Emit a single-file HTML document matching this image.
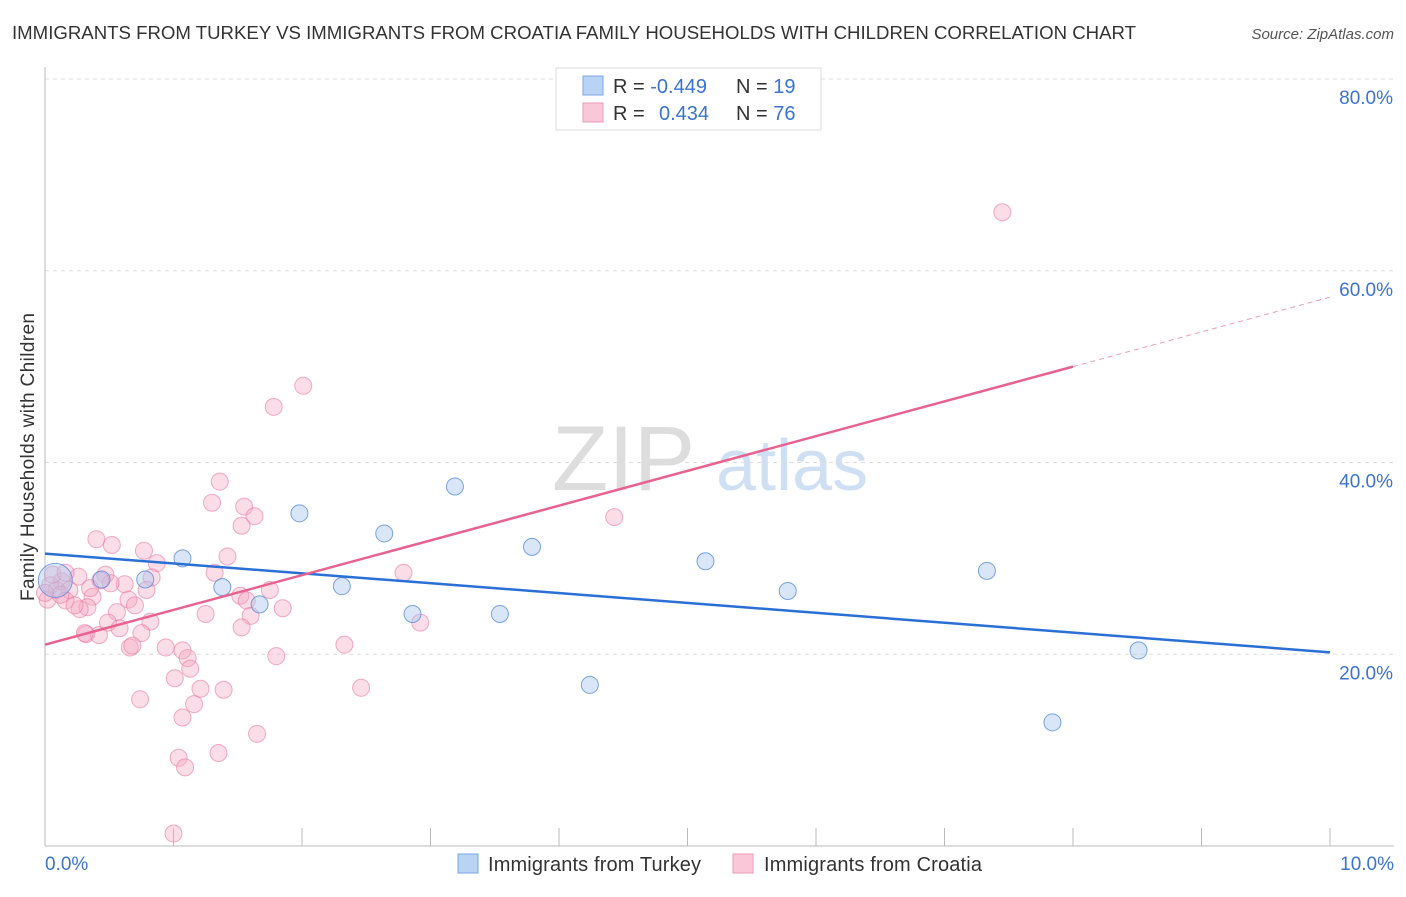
<!DOCTYPE html>
<html><head><meta charset="utf-8"><style>
body{margin:0;background:#fff;font-family:"Liberation Sans",sans-serif;}
svg text{font-family:"Liberation Sans",sans-serif;}
</style></head><body>
<svg id="chart" width="1406" height="892">
<text x="12" y="39" font-size="18" fill="#333" textLength="1124" lengthAdjust="spacingAndGlyphs">IMMIGRANTS FROM TURKEY VS IMMIGRANTS FROM CROATIA FAMILY HOUSEHOLDS WITH CHILDREN CORRELATION CHART</text>
<text x="1394" y="39" font-size="15" fill="#555" font-style="italic" text-anchor="end">Source: ZipAtlas.com</text>
<text x="34" y="457" font-size="19" fill="#333" text-anchor="middle" textLength="288" transform="rotate(-90 34 457)">Family Households with Children</text>
<g><text x="552" y="490" font-size="92" fill="#ddd" font-family="Liberation Serif">ZIP</text><text x="716" y="490" font-size="72" fill="#cfe0f5">atlas</text></g>
<g id="grid"></g><g id="axes"></g><g id="marks"></g>
<g>
<rect x="556" y="68" width="265" height="62" fill="#fff" stroke="#ddd"/>
<rect x="583" y="76" width="20" height="19" fill="#b9d3f5" stroke="#7aa7e6"/>
<rect x="583" y="103" width="20" height="19" fill="#f9c8d8" stroke="#ee97b5"/>
<text x="613" y="93" font-size="20" fill="#333">R = <tspan fill="#3b73d1">-0.449</tspan></text>
<text x="736" y="93" font-size="20" fill="#333">N = <tspan fill="#3b73d1">19</tspan></text>
<text x="613" y="120" font-size="20" fill="#333">R = <tspan fill="#3b73d1" x="659">0.434</tspan></text>
<text x="736" y="120" font-size="20" fill="#333">N = <tspan fill="#3b73d1">76</tspan></text>
</g>
<g>
<rect x="458" y="854" width="20" height="19" fill="#b9d3f5" stroke="#7aa7e6"/>
<text x="488" y="871" font-size="20" fill="#333" textLength="213">Immigrants from Turkey</text>
<rect x="733" y="854" width="20" height="19" fill="#f9c8d8" stroke="#ee97b5"/>
<text x="764" y="871" font-size="20" fill="#333" textLength="218">Immigrants from Croatia</text>
</g>
</svg>
<script>
const yTicks=[20,40,60,80];
const yTickLabels=["20.0%","40.0%","60.0%","80.0%"];
const xTickLabels=["0.0%","10.0%"];
const turkeyX=[0.08,0.44,0.78,1.07,1.38,1.67,1.98,2.31,2.64,2.86,3.19,3.54,3.79,4.24,5.14,5.78,7.33,8.51,7.84];
const turkeyY=[27.7,27.8,27.8,30.0,27.0,25.2,34.7,27.1,32.6,24.2,37.5,24.2,31.2,16.8,29.7,26.6,28.7,20.4,12.9];
const croatiaX=[7.45,2.01,1.78,1.36,1.30,1.55,1.63,1.53,4.43,0.40,0.52,0.77,1.42,0.87,2.79,1.32,0.47,0.26,0.83,0.62,0.13,0.09,0.19,0.79,0.37,0.65,1.52,1.57,1.85,0.70,0.33,0.27,0.56,1.25,1.60,2.92,0.82,0.49,1.53,0.58,0.75,0.32,0.42,0.31,2.33,0.66,0.68,0.94,1.07,1.11,1.13,1.80,1.01,1.21,1.39,2.46,1.16,0.74,1.07,1.65,1.35,1.04,1.09,1.00,0.04,0.02,0.16,0.12,0.23,0.51,0.43,0.06,0.16,0.0,0.35,1.75];
const croatiaY=[66.1,48.0,45.8,38.0,35.8,35.4,34.4,33.4,34.3,32.0,31.4,30.8,30.2,29.5,28.5,28.5,28.3,28.1,28.0,27.3,27.6,26.7,26.7,26.7,26.0,25.7,26.1,25.6,24.8,25.1,24.9,24.7,24.4,24.2,24.0,23.3,23.4,23.3,22.8,22.7,22.2,22.1,22.0,22.2,21.0,20.7,20.9,20.7,20.4,19.6,18.5,19.8,17.5,16.4,16.3,16.5,14.8,15.3,13.4,11.7,9.7,9.2,8.2,1.3,27.2,25.7,25.6,26.2,25.1,27.4,27.7,28.3,28.5,26.4,26.9,26.7];
const turkeyTrend=[30.5,20.2];
const croatiaTrend=[21.0,57.25];
const croatiaSolidEnd=8.0;

const NS="http://www.w3.org/2000/svg";
const X=v=>45+v*128.5, Y=v=>846-v*9.5875;
function mk(p,t,a){const e=document.createElementNS(NS,t);for(const k in a)e.setAttribute(k,a[k]);p.appendChild(e);return e;}
const grid=document.getElementById('grid'),axes=document.getElementById('axes'),marks=document.getElementById('marks');
yTicks.forEach((t,i)=>{
 const l=mk(grid,'line',{x1:45,x2:1394,y1:Y(t),y2:Y(t),stroke:'#ddd','stroke-dasharray':'4 4'});
 
 
 const tx=mk(axes,'text',{x:1393,y:Y(t)+25,'font-size':19,fill:'#3b73d1','text-anchor':'end'});tx.textContent=yTickLabels[i];
 
 
});
const ax=mk(axes,'line',{x1:45,x2:1394,y1:846,y2:846,stroke:'#bbb'});


const ay=mk(axes,'line',{x1:45,x2:45,y1:67,y2:846,stroke:'#bbb'});


for(let i=1;i<=10;i++){const t=mk(axes,'line',{x1:X(i),x2:X(i),y1:828,y2:846,stroke:'#bbb'});
 
 }
[[0,'start',45],[10,'end',1394]].forEach((d,i)=>{const t=mk(axes,'text',{x:d[2],y:870,'font-size':19,fill:'#3b73d1','text-anchor':d[1]});t.textContent=xTickLabels[i];
 
 });
croatiaX.forEach((x,i)=>{const c=mk(marks,'circle',{cx:X(x),cy:Y(croatiaY[i]),r:8.5,fill:'rgba(246,170,196,0.4)',stroke:'rgba(232,120,160,0.6)'});
 
 });
turkeyX.forEach((x,i)=>{const c=mk(marks,'circle',{cx:X(x),cy:Y(turkeyY[i]),r:i==0?17:8.5,fill:'rgba(170,200,240,0.45)',stroke:'rgba(80,135,215,0.75)'});
 
 });
const tl=mk(marks,'line',{x1:X(0),y1:Y(turkeyTrend[0]),x2:X(10),y2:Y(turkeyTrend[1]),stroke:'#2a6fd6','stroke-width':2.5});


const cy=x=>croatiaTrend[0]+(croatiaTrend[1]-croatiaTrend[0])*x/10;
const cl=mk(marks,'line',{x1:X(0),y1:Y(cy(0)),x2:X(croatiaSolidEnd),y2:Y(cy(croatiaSolidEnd)),stroke:'#e8628f','stroke-width':2.5});


const cd=mk(marks,'line',{x1:X(croatiaSolidEnd),y1:Y(cy(croatiaSolidEnd)),x2:X(10),y2:Y(cy(10)),stroke:'#ee9ab6','stroke-width':1,'stroke-dasharray':'5 4'});


</script>
</body></html>
